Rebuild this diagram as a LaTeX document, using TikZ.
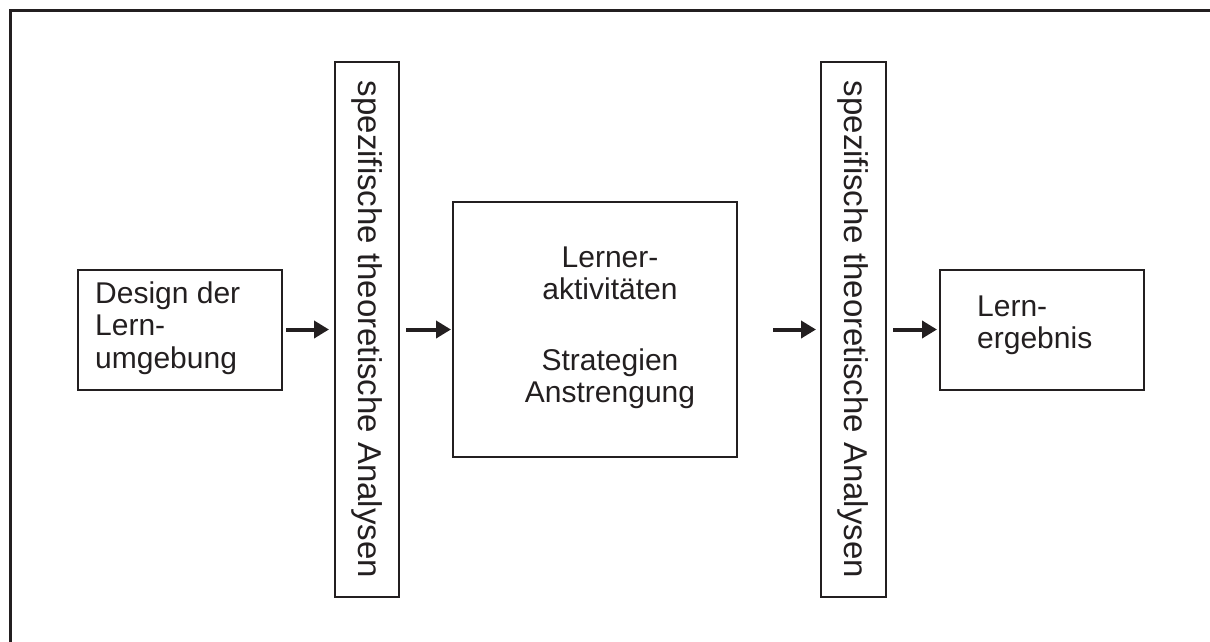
\documentclass[tikz,border=0pt]{standalone}
\usepackage{fontspec}
\setmainfont{Liberation Sans}
\usetikzlibrary{arrows.meta}
\definecolor{ink}{HTML}{231F20}
\begin{document}
\begin{tikzpicture}[x=1pt,y=-1pt,
  box/.style={draw=ink, line width=2pt, inner sep=0pt, text=ink},
  lbl/.style={text=ink, font=\fontsize{30pt}{32.5pt}\selectfont, inner sep=0pt},
  vlbl/.style={text=ink, font=\fontsize{33pt}{36pt}\selectfont, inner sep=0pt, rotate=-90},
  arr/.style={draw=ink, line width=4pt, -{Triangle[length=15pt,width=17pt]}},
]
\useasboundingbox (0,0) rectangle (1210,642);
\draw[ink, line width=3pt] (1210,11) -- (10,11) -- (10,642);

\node[box, minimum width=204pt, minimum height=120pt] (design) at (180,329.5) {};
\node[lbl, align=left, anchor=west] (designtxt) at (95,328) {Design der\\Lern-\\umgebung};

\node[box, minimum width=64pt, minimum height=534pt] (vbox1) at (367,329.5) {};
\node[vlbl] (vtxt1) at (vbox1.center) {spezifische theoretische Analysen};

\node[box, minimum width=284pt, minimum height=255pt] (mid) at (595,329.5) {};
\node[lbl, align=center] (midtxt) at (610,328) {Lerner-\\aktivitäten\\[38pt]Strategien\\Anstrengung};

\node[box, minimum width=65pt, minimum height=534pt] (vbox2) at (853.5,329.5) {};
\node[vlbl] (vtxt2) at (vbox2.center) {spezifische theoretische Analysen};

\node[box, minimum width=204pt, minimum height=120pt] (lern) at (1042,329.5) {};
\node[lbl, align=left, anchor=west] (lerntxt) at (977,325.5) {Lern-\\ergebnis};

\draw[arr, shorten <=3pt, shorten >=5pt] (design.east) -- (vbox1.west);
\draw[arr, shorten <=6pt, shorten >=1pt] (vbox1.east) -- (mid.west);
\draw[arr, shorten <=35pt, shorten >=4pt] (mid.east) -- (vbox2.west);
\draw[arr, shorten <=6pt, shorten >=2pt] (vbox2.east) -- (lern.west);
\end{tikzpicture}
\end{document}
